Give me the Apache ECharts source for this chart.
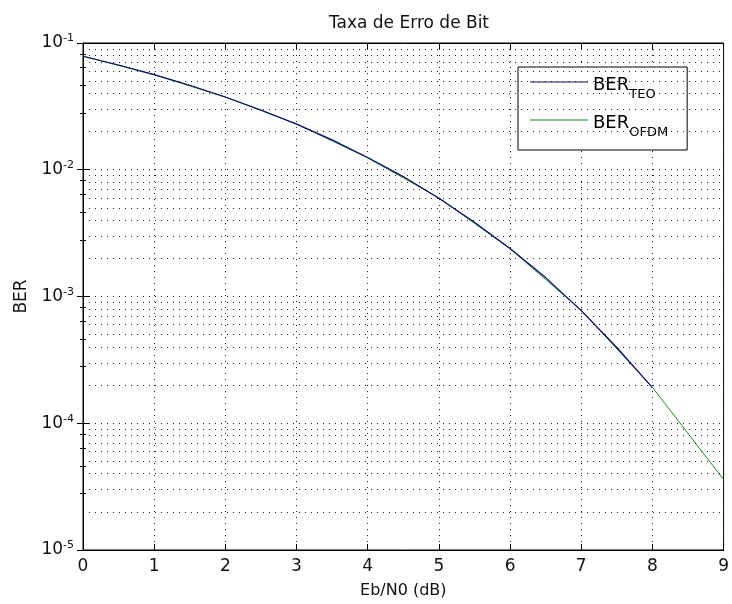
<!DOCTYPE html>
<html>
<head>
<meta charset="utf-8">
<script src="https://cdn.jsdelivr.net/npm/echarts@6/dist/echarts.min.js"></script>
<style>
    html, body { margin: 0; padding: 0; background: #fff; }
    #chart { width: 732px; height: 604px; }
</style>
</head>
<body>
<div id="chart"></div>
<script>
    // Eb/N0 (dB) for each curve
    var ebnoTeo = [0, 0.5, 1, 1.5, 2, 2.5, 3, 3.5, 4, 4.5, 5, 5.5, 6, 6.5, 7, 7.5, 8];
    var berTeo = [0.0786, 0.0671, 0.0563, 0.0464, 0.0375, 0.0296, 0.0229, 0.0172, 0.0125,
        0.00883, 0.00595, 0.00386, 0.00239, 0.00141, 0.000773, 0.000396, 0.000191];
    var ebnoOfdm = [0, 1, 2, 3, 4, 5, 6, 7, 8, 9];
    var berOfdm = [0.0787, 0.0562, 0.0374, 0.0230, 0.0124, 0.0060, 0.00238, 0.00078, 0.000192, 0.000036];
    var minorGrid = [2e-5, 3e-5, 4e-5, 5e-5, 6e-5, 7e-5, 8e-5, 9e-5,
        2e-4, 3e-4, 4e-4, 5e-4, 6e-4, 7e-4, 8e-4, 9e-4,
        2e-3, 3e-3, 4e-3, 5e-3, 6e-3, 7e-3, 8e-3, 9e-3,
        2e-2, 3e-2, 4e-2, 5e-2, 6e-2, 7e-2, 8e-2, 9e-2];

    var FONT = 'DejaVu Sans';
    var dotted = { color: '#222', width: 1, type: [1, 5] };

    function pairs(xs, ys) {
        return xs.map(function (x, i) { return [x, ys[i]]; });
    }

    var chart = echarts.init(document.getElementById('chart'));
    chart.setOption({
        animation: false,
        backgroundColor: '#fff',
        textStyle: { fontFamily: FONT },
        title: {
            text: 'Taxa de Erro de Bit',
            left: 404, top: 10, textAlign: 'center',
            textStyle: { fontFamily: FONT, fontSize: 17, fontWeight: 'normal', color: '#111' }
        },
        grid: { left: 83, right: 7, top: 43, bottom: 54, show: true, borderColor: '#000', borderWidth: 1 },
        legend: {
            orient: 'vertical',
            left: 518, top: 67,
            backgroundColor: '#fff',
            borderColor: '#000', borderWidth: 1, borderRadius: 0,
            padding: [9, 19, 11, 12],
            icon: 'rect',
            itemWidth: 58, itemHeight: 1, itemGap: 13,
            formatter: function (name) {
                var p = name.split('_');
                return '{m|' + p[0] + '}{s|' + p[1] + '}';
            },
            textStyle: {
                rich: {
                    m: { fontFamily: FONT, fontSize: 18, color: '#000', verticalAlign: 'bottom', lineHeight: 24 },
                    s: { fontFamily: FONT, fontSize: 13, color: '#000', verticalAlign: 'bottom', lineHeight: 24, padding: [0, 0, -7, 0] }
                }
            }
        },
        xAxis: [{
            type: 'value', min: 0, max: 9, interval: 1,
            name: 'Eb/N0 (dB)', nameLocation: 'middle', nameGap: 33,
            nameTextStyle: { fontFamily: FONT, fontSize: 16, color: '#111' },
            axisLine: { lineStyle: { color: '#000' } },
            axisTick: { inside: true, length: 6, lineStyle: { color: '#000' } },
            axisLabel: { fontFamily: FONT, fontSize: 17, color: '#111', margin: 8 },
            splitLine: { show: true, lineStyle: dotted }
        }, {
            type: 'value', min: 0, max: 9, interval: 1, position: 'top',
            axisLine: { lineStyle: { color: '#000' } },
            axisTick: { inside: true, length: 6, lineStyle: { color: '#000' } },
            axisLabel: { show: false },
            splitLine: { show: false }
        }],
        yAxis: [{
            type: 'log', logBase: 10, min: 1e-5, max: 1e-1,
            name: 'BER', nameLocation: 'middle', nameGap: 52, nameRotate: 90,
            nameTextStyle: { fontFamily: FONT, fontSize: 17, color: '#111' },
            axisLine: { lineStyle: { color: '#000' } },
            axisTick: { inside: true, length: 6, lineStyle: { color: '#000' } },
            minorTick: { show: true, length: 3, lineStyle: { color: '#000' } },
            axisLabel: {
                margin: 9,
                formatter: function (v) {
                    return '{b|10}{s|' + Math.round(Math.log10(v)) + '}';
                },
                rich: {
                    b: { fontFamily: FONT, fontSize: 17, color: '#111', lineHeight: 20 },
                    s: { fontFamily: FONT, fontSize: 11, color: '#111', lineHeight: 20, verticalAlign: 'top', padding: [0, 0, 12, 0] }
                }
            },
            splitLine: { show: true, lineStyle: dotted }
        }, {
            type: 'log', logBase: 10, min: 1e-5, max: 1e-1, position: 'right',
            axisLine: { lineStyle: { color: '#000' } },
            axisTick: { inside: true, length: 6, lineStyle: { color: '#000' } },
            minorTick: { show: true, length: 3, lineStyle: { color: '#000' } },
            axisLabel: { show: false },
            splitLine: { show: false }
        }],
        series: [{
            name: 'BER_TEO',
            type: 'line',
            data: pairs(ebnoTeo, berTeo),
            symbol: 'none',
            lineStyle: { color: '#0c0c70', width: 1.2 },
            itemStyle: { color: '#0c0c70' },
            markLine: {
                silent: true,
                symbol: 'none',
                label: { show: false },
                lineStyle: dotted,
                data: minorGrid.map(function (v) { return [{ coord: [0, v] }, { coord: [9, v] }]; })
            },
            z: 3
        }, {
            name: 'BER_OFDM',
            type: 'line',
            data: pairs(ebnoOfdm, berOfdm),
            symbol: 'none',
            lineStyle: { color: '#1f8a2a', width: 1 },
            itemStyle: { color: '#1f8a2a' },
            z: 2
        }]
    });
</script>
</body>
</html>
